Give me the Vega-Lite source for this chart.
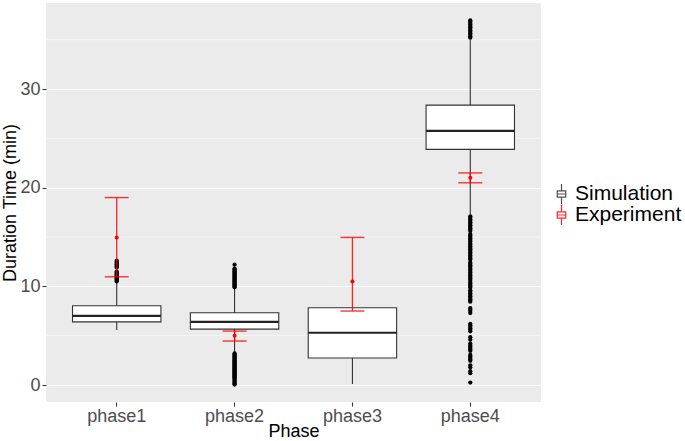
{
  "$schema": "https://vega.github.io/schema/vega-lite/v6.json",
  "width": 495,
  "height": 399,
  "autosize": {"type": "none"},
  "padding": {"left": 46, "top": 3, "right": 144, "bottom": 39},
  "background": "white",
  "config": {
    "font": "Liberation Sans",
    "view": {"fill": "#EBEBEB", "stroke": null},
    "axis": {
      "domain": false,
      "gridColor": "white",
      "gridWidth": 1.1,
      "tickColor": "#333333",
      "tickSize": 4,
      "tickWidth": 1.1,
      "labelColor": "#4D4D4D",
      "labelFontSize": 18,
      "titleFontSize": 18,
      "titleColor": "black",
      "titleFontWeight": "normal"
    }
  },
  "datasets": {
    "minor": [{"v": 5}, {"v": 15}, {"v": 25}, {"v": 35}],
    "boxes": [
      {"phase": "phase1", "lower": 5.57, "q1": 6.4, "median": 7.0, "q3": 8.03, "upper": 10.4},
      {"phase": "phase2", "lower": 3.3, "q1": 5.67, "median": 6.41, "q3": 7.33, "upper": 9.8},
      {"phase": "phase3", "lower": 0.1, "q1": 2.74, "median": 5.3, "q3": 7.83, "upper": 7.9},
      {"phase": "phase4", "lower": 17.3, "q1": 23.88, "median": 25.76, "q3": 28.37, "upper": 35.0}
    ],
    "experiment": [
      {"phase": "phase1", "low": 10.97, "mean": 14.96, "high": 19.0},
      {"phase": "phase2", "low": 4.46, "mean": 5.0, "high": 5.47},
      {"phase": "phase3", "low": 7.5, "mean": 10.5, "high": 14.96},
      {"phase": "phase4", "low": 20.5, "mean": 21.0, "high": 21.5}
    ],
    "outliers": [
      {"phase": "phase1", "value": 10.5}, {"phase": "phase1", "value": 10.6}, {"phase": "phase1", "value": 10.7},
      {"phase": "phase1", "value": 10.8}, {"phase": "phase1", "value": 10.9}, {"phase": "phase1", "value": 11.0},
      {"phase": "phase1", "value": 11.1}, {"phase": "phase1", "value": 11.2}, {"phase": "phase1", "value": 11.3},
      {"phase": "phase1", "value": 11.4}, {"phase": "phase1", "value": 11.5}, {"phase": "phase1", "value": 11.9},
      {"phase": "phase1", "value": 12.0}, {"phase": "phase1", "value": 12.1}, {"phase": "phase1", "value": 12.2},
      {"phase": "phase1", "value": 12.3}, {"phase": "phase1", "value": 12.45}, {"phase": "phase1", "value": 12.6},

      {"phase": "phase2", "value": 12.2},
      {"phase": "phase2", "value": 11.8}, {"phase": "phase2", "value": 11.7}, {"phase": "phase2", "value": 11.6},
      {"phase": "phase2", "value": 11.5}, {"phase": "phase2", "value": 11.4}, {"phase": "phase2", "value": 11.3},
      {"phase": "phase2", "value": 11.2}, {"phase": "phase2", "value": 11.1}, {"phase": "phase2", "value": 11.0},
      {"phase": "phase2", "value": 10.9}, {"phase": "phase2", "value": 10.8}, {"phase": "phase2", "value": 10.7},
      {"phase": "phase2", "value": 10.6}, {"phase": "phase2", "value": 10.5}, {"phase": "phase2", "value": 10.4},
      {"phase": "phase2", "value": 10.3}, {"phase": "phase2", "value": 10.2}, {"phase": "phase2", "value": 10.1},
      {"phase": "phase2", "value": 10.0}, {"phase": "phase2", "value": 9.9},
      {"phase": "phase2", "value": 3.2}, {"phase": "phase2", "value": 3.1}, {"phase": "phase2", "value": 3.0},
      {"phase": "phase2", "value": 2.9}, {"phase": "phase2", "value": 2.8}, {"phase": "phase2", "value": 2.7},
      {"phase": "phase2", "value": 2.6}, {"phase": "phase2", "value": 2.5}, {"phase": "phase2", "value": 2.4},
      {"phase": "phase2", "value": 2.3}, {"phase": "phase2", "value": 2.2}, {"phase": "phase2", "value": 2.1},
      {"phase": "phase2", "value": 2.0}, {"phase": "phase2", "value": 1.9}, {"phase": "phase2", "value": 1.8},
      {"phase": "phase2", "value": 1.7}, {"phase": "phase2", "value": 1.6}, {"phase": "phase2", "value": 1.5},
      {"phase": "phase2", "value": 1.4}, {"phase": "phase2", "value": 1.3}, {"phase": "phase2", "value": 1.2},
      {"phase": "phase2", "value": 1.1}, {"phase": "phase2", "value": 1.0}, {"phase": "phase2", "value": 0.9},
      {"phase": "phase2", "value": 0.8}, {"phase": "phase2", "value": 0.7}, {"phase": "phase2", "value": 0.6},
      {"phase": "phase2", "value": 0.5}, {"phase": "phase2", "value": 0.4}, {"phase": "phase2", "value": 0.3},
      {"phase": "phase2", "value": 0.2}, {"phase": "phase2", "value": 0.1}, {"phase": "phase2", "value": 0.05},

      {"phase": "phase4", "value": 35.2}, {"phase": "phase4", "value": 35.35}, {"phase": "phase4", "value": 35.5},
      {"phase": "phase4", "value": 35.65}, {"phase": "phase4", "value": 35.8}, {"phase": "phase4", "value": 35.95},
      {"phase": "phase4", "value": 36.1}, {"phase": "phase4", "value": 36.25}, {"phase": "phase4", "value": 36.4},
      {"phase": "phase4", "value": 36.55}, {"phase": "phase4", "value": 36.7}, {"phase": "phase4", "value": 36.85},
      {"phase": "phase4", "value": 36.95},
      {"phase": "phase4", "value": 17.1}, {"phase": "phase4", "value": 16.95}, {"phase": "phase4", "value": 16.8},
      {"phase": "phase4", "value": 16.65}, {"phase": "phase4", "value": 16.5}, {"phase": "phase4", "value": 16.35},
      {"phase": "phase4", "value": 16.2}, {"phase": "phase4", "value": 16.05}, {"phase": "phase4", "value": 15.9},
      {"phase": "phase4", "value": 15.75}, {"phase": "phase4", "value": 15.6},
      {"phase": "phase4", "value": 15.3}, {"phase": "phase4", "value": 15.15}, {"phase": "phase4", "value": 15.0},
      {"phase": "phase4", "value": 14.85}, {"phase": "phase4", "value": 14.7}, {"phase": "phase4", "value": 14.55},
      {"phase": "phase4", "value": 14.35}, {"phase": "phase4", "value": 14.2}, {"phase": "phase4", "value": 14.05},
      {"phase": "phase4", "value": 13.9}, {"phase": "phase4", "value": 13.75}, {"phase": "phase4", "value": 13.6},
      {"phase": "phase4", "value": 13.45}, {"phase": "phase4", "value": 13.3}, {"phase": "phase4", "value": 13.15},
      {"phase": "phase4", "value": 13.0}, {"phase": "phase4", "value": 12.85}, {"phase": "phase4", "value": 12.7},
      {"phase": "phase4", "value": 12.4}, {"phase": "phase4", "value": 12.3}, {"phase": "phase4", "value": 12.15},
      {"phase": "phase4", "value": 12.0}, {"phase": "phase4", "value": 11.85}, {"phase": "phase4", "value": 11.7},
      {"phase": "phase4", "value": 11.55}, {"phase": "phase4", "value": 11.4}, {"phase": "phase4", "value": 11.25},
      {"phase": "phase4", "value": 11.1}, {"phase": "phase4", "value": 10.95}, {"phase": "phase4", "value": 10.8},
      {"phase": "phase4", "value": 10.65}, {"phase": "phase4", "value": 10.45}, {"phase": "phase4", "value": 10.3},
      {"phase": "phase4", "value": 10.15}, {"phase": "phase4", "value": 10.0}, {"phase": "phase4", "value": 9.85},
      {"phase": "phase4", "value": 9.6}, {"phase": "phase4", "value": 9.45}, {"phase": "phase4", "value": 9.3},
      {"phase": "phase4", "value": 9.15}, {"phase": "phase4", "value": 9.0}, {"phase": "phase4", "value": 8.85},
      {"phase": "phase4", "value": 8.7}, {"phase": "phase4", "value": 8.55}, {"phase": "phase4", "value": 8.45},
      {"phase": "phase4", "value": 7.8}, {"phase": "phase4", "value": 7.65}, {"phase": "phase4", "value": 7.5},
      {"phase": "phase4", "value": 7.3}, {"phase": "phase4", "value": 6.2}, {"phase": "phase4", "value": 6.05},
      {"phase": "phase4", "value": 5.9}, {"phase": "phase4", "value": 5.75}, {"phase": "phase4", "value": 5.6},
      {"phase": "phase4", "value": 5.45}, {"phase": "phase4", "value": 4.85}, {"phase": "phase4", "value": 4.6},
      {"phase": "phase4", "value": 4.2}, {"phase": "phase4", "value": 4.05}, {"phase": "phase4", "value": 3.9},
      {"phase": "phase4", "value": 3.75}, {"phase": "phase4", "value": 3.6}, {"phase": "phase4", "value": 3.45},
      {"phase": "phase4", "value": 3.05}, {"phase": "phase4", "value": 2.9}, {"phase": "phase4", "value": 2.75},
      {"phase": "phase4", "value": 2.6}, {"phase": "phase4", "value": 2.45}, {"phase": "phase4", "value": 2.0},
      {"phase": "phase4", "value": 1.8}, {"phase": "phase4", "value": 1.4}, {"phase": "phase4", "value": 1.2},
      {"phase": "phase4", "value": 0.25}
    ]
  },
  "layer": [
    {
      "data": {"name": "minor"},
      "mark": {"type": "rule", "color": "white", "strokeWidth": 0.5},
      "encoding": {
        "y": {"field": "v", "type": "quantitative", "title": "Duration Time (min)",
              "scale": {"domain": [-1.72, 38.72], "nice": false, "zero": false},
              "axis": {"values": [0, 10, 20, 30], "labelPadding": 2, "titlePadding": 0}}
      }
    },
    {
      "data": {"name": "boxes"},
      "mark": {"type": "rule", "strokeWidth": 1.1},
      "encoding": {
        "x": {"field": "phase", "type": "nominal", "title": "Phase",
              "scale": {"domain": ["phase1", "phase2", "phase3", "phase4"], "paddingInner": 0, "paddingOuter": 0.1},
              "axis": {"labelAngle": 0, "bandPosition": 0.5, "labelPadding": 1, "titlePadding": -3}},
        "y": {"field": "lower", "type": "quantitative", "title": "Duration Time (min)"},
        "y2": {"field": "upper"},
        "color": {"datum": "Simulation",
                  "scale": {"domain": ["Simulation", "Experiment"], "range": ["#333333", "#FF0000"]},
                  "legend": {"title": null, "orient": "none", "legendX": 504, "legendY": 181,
                             "symbolType": "M-0.4,-0.3H0.4V0.3H-0.4Z M-0.4,0H0.4 M0,-0.3V-1 M0,0.3V1",
                             "symbolSize": 450, "symbolStrokeWidth": 1.2, "symbolFillColor": "transparent",
                             "labelFontSize": 21, "labelColor": "black", "rowPadding": 0, "clipHeight": 20,
                             "labelOffset": 2, "padding": 0}}
      }
    },
    {
      "data": {"name": "boxes"},
      "mark": {"type": "bar", "fill": "white", "stroke": "#333333", "strokeWidth": 1.1, "width": {"band": 0.75}},
      "encoding": {
        "x": {"field": "phase", "type": "nominal", "title": "Phase"},
        "y": {"field": "q1", "type": "quantitative", "title": "Duration Time (min)"},
        "y2": {"field": "q3"}
      }
    },
    {
      "data": {"name": "boxes"},
      "mark": {"type": "tick", "color": "#222222", "size": 88.4, "thickness": 2.2, "opacity": 1},
      "encoding": {
        "x": {"field": "phase", "type": "nominal", "title": "Phase"},
        "y": {"field": "median", "type": "quantitative", "title": "Duration Time (min)"}
      }
    },
    {
      "data": {"name": "outliers"},
      "mark": {"type": "point", "filled": true, "color": "black", "size": 18, "opacity": 1},
      "encoding": {
        "x": {"field": "phase", "type": "nominal", "title": "Phase"},
        "y": {"field": "value", "type": "quantitative", "title": "Duration Time (min)"}
      }
    },
    {
      "data": {"name": "experiment"},
      "mark": {"type": "rule", "strokeWidth": 1.3, "opacity": 0.85},
      "encoding": {
        "x": {"field": "phase", "type": "nominal", "title": "Phase"},
        "y": {"field": "low", "type": "quantitative", "title": "Duration Time (min)"},
        "y2": {"field": "high"},
        "color": {"datum": "Experiment"}
      }
    },
    {
      "data": {"name": "experiment"},
      "mark": {"type": "tick", "color": "#FF0000", "size": 24, "thickness": 1.4, "opacity": 0.8},
      "encoding": {
        "x": {"field": "phase", "type": "nominal", "title": "Phase"},
        "y": {"field": "low", "type": "quantitative", "title": "Duration Time (min)"}
      }
    },
    {
      "data": {"name": "experiment"},
      "mark": {"type": "tick", "color": "#FF0000", "size": 24, "thickness": 1.4, "opacity": 0.8},
      "encoding": {
        "x": {"field": "phase", "type": "nominal", "title": "Phase"},
        "y": {"field": "high", "type": "quantitative", "title": "Duration Time (min)"}
      }
    },
    {
      "data": {"name": "experiment"},
      "mark": {"type": "point", "filled": true, "color": "#FF0000", "size": 16, "opacity": 1},
      "encoding": {
        "x": {"field": "phase", "type": "nominal", "title": "Phase"},
        "y": {"field": "mean", "type": "quantitative", "title": "Duration Time (min)"}
      }
    }
  ]
}
